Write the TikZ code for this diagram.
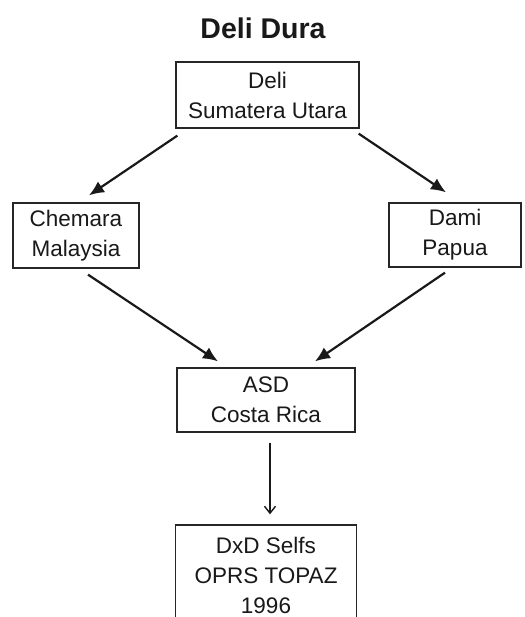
\documentclass[tikz,border=0pt]{standalone}
\usepackage{fontspec}
\setmainfont{Liberation Sans}
\usepackage{tikz}
\usetikzlibrary{calc,arrows.meta}

\begin{document}
\begin{tikzpicture}
[   x=1pt,y=1pt,
    bnode/.style={draw=black!85,line width=1.3pt,fill=white,align=center,inner sep=0pt,
        text=black!90,font=\fontsize{22.5}{30}\selectfont,minimum width=#1},
]
\tikzset{normal arrow/.style={draw=black!90,line width=2.2pt,-{Latex[length=15pt,width=13pt]}}}
\tikzset{thin arrow/.style={draw=black!90,line width=1.4pt,-{Straight Barb[length=7pt,width=11pt]}}}
\useasboundingbox (0,0) rectangle (524,-617);
\clip (0,0) rectangle (524,-617);
\node[font=\bfseries\fontsize{28.5}{30}\selectfont,text=black!90] (title) at (263,-28) {Deli Dura};
\node[bnode=183pt,minimum height=66pt] (deli) at (267.5,-95) {Deli\\Sumatera Utara};
\node[bnode=126pt,minimum height=65pt] (chemara) at (76,-235.5) {Chemara\\Malaysia};
\node[bnode=132pt,minimum height=64pt] (dami) at (455,-235) {Dami\\Papua};
\node[bnode=178pt,minimum height=64pt] (asd) at (266,-400) {ASD\\Costa Rica};
\node[bnode=181pt,minimum height=100pt] (selfs) at (266,-575) {DxD Selfs\\OPRS TOPAZ\\1996};

\path[normal arrow] ([xshift=2pt,yshift=-7pt]deli.south west) -- ([xshift=13pt,yshift=7pt]chemara.north);
\path[normal arrow] ([xshift=-1pt,yshift=-5pt]deli.south east) -- ([xshift=-9pt,yshift=10pt]dami.north);
\path[normal arrow] ([xshift=12pt,yshift=-6pt]chemara.south) -- ([xshift=-48pt,yshift=6pt]asd.north);
\path[normal arrow] ([xshift=-10pt,yshift=-5pt]dami.south) -- ([xshift=49pt,yshift=6pt]asd.north);
\path[thin arrow] ([xshift=4pt,yshift=-10pt]asd.south) -- ([xshift=4pt,yshift=10pt]selfs.north);
\end{tikzpicture}
\end{document}
